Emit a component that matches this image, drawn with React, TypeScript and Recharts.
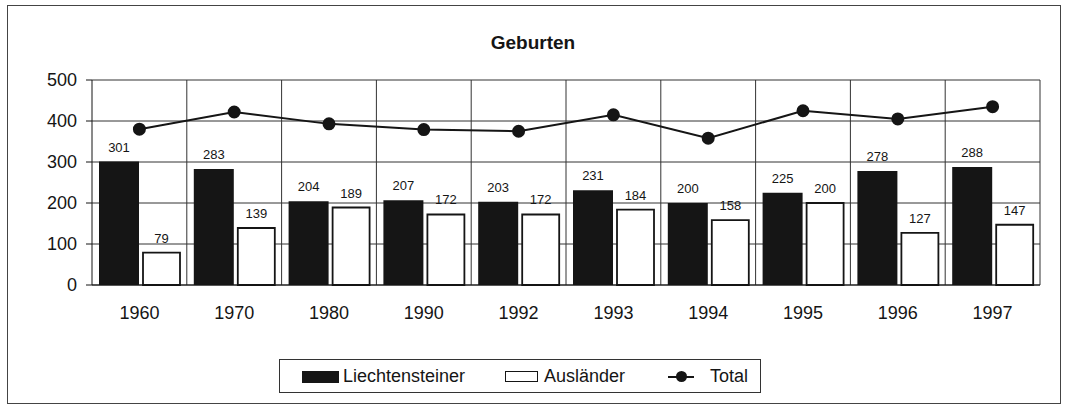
import { ComposedChart, Bar, Line, XAxis, YAxis, CartesianGrid, LabelList } from 'recharts';

const years = ['1960', '1970', '1980', '1990', '1992', '1993', '1994', '1995', '1996', '1997'];
const liechtensteiner = [301, 283, 204, 207, 203, 231, 200, 225, 278, 288];
const auslaender = [79, 139, 189, 172, 172, 184, 158, 200, 127, 147];
const total = [380, 422, 393, 379, 375, 415, 358, 425, 405, 435];
const yTicks = [0, 100, 200, 300, 400, 500];

const data = years.map((year, i) => ({
  year,
  liechtensteiner: liechtensteiner[i],
  auslaender: auslaender[i],
  total: total[i],
}));

const font = '"Liberation Sans", Arial, Helvetica, sans-serif';
const ink = '#151515';

export default function App() {
  return (
    <div style={{ position: 'absolute', left: 0, top: 0, width: 1066, height: 407, background: '#fff', fontFamily: font }}>
      <div style={{ position: 'absolute', left: 7, top: 5, width: 1052, height: 397, border: '1px solid #444' }} />
      <div style={{ position: 'absolute', left: 0, width: 1066, top: 32, textAlign: 'center', fontSize: 19, fontWeight: 'bold', color: ink }}>
        Geburten
      </div>
      <ComposedChart
        width={1066}
        height={407}
        data={data}
        margin={{ top: 80, right: 26, bottom: 92, left: 32 }}
        style={{ position: 'absolute', left: 0, top: 0 }}
      >
        <CartesianGrid
          stroke="#333"
          strokeWidth={1}
          verticalCoordinatesGenerator={({ offset }: any) =>
            years.map((_, i) => offset.left + ((i + 1) * offset.width) / years.length)
          }
        />
        <XAxis
          dataKey="year"
          height={30}
          axisLine={{ stroke: ink }}
          tickLine={false}
          tickMargin={15}
          tick={{ fill: ink, fontSize: 18, fontFamily: font }}
          interval={0}
        />
        <YAxis
          domain={[0, 500]}
          ticks={yTicks}
          width={60}
          axisLine={{ stroke: ink }}
          tickLine={{ stroke: ink }}
          tickSize={6}
          tickMargin={9}
          tick={{ fill: ink, fontSize: 18, fontFamily: font }}
        />
        <Bar dataKey="liechtensteiner" fill={ink} isAnimationActive={false} barSize={40}>
          <LabelList dataKey="liechtensteiner" position="top" offset={10} fill={ink} fontSize={13} fontFamily={font} />
        </Bar>
        <Bar dataKey="auslaender" fill="#fff" stroke={ink} strokeWidth={1.8} isAnimationActive={false} barSize={37}>
          <LabelList dataKey="auslaender" position="top" offset={10} fill={ink} fontSize={13} fontFamily={font} />
        </Bar>
        <Line
          dataKey="total"
          stroke={ink}
          strokeWidth={2}
          dot={{ r: 5.5, fill: ink, stroke: ink }}
          isAnimationActive={false}
        />
      </ComposedChart>
      <div
        style={{
          position: 'absolute',
          left: 279,
          top: 359,
          width: 482,
          height: 34,
          border: '1px solid #333',
          boxSizing: 'border-box',
          fontSize: 18,
          color: ink,
        }}
      >
        <div style={{ position: 'absolute', left: 22, top: 11, width: 37, height: 12, background: ink }} />
        <div style={{ position: 'absolute', left: 63, top: 6 }}>Liechtensteiner</div>
        <div style={{ position: 'absolute', left: 225, top: 11, width: 33, height: 11, border: '1.5px solid ' + ink, boxSizing: 'border-box' }} />
        <div style={{ position: 'absolute', left: 264, top: 6 }}>Ausländer</div>
        <div style={{ position: 'absolute', left: 388, top: 16, width: 26, height: 2, background: ink }} />
        <div style={{ position: 'absolute', left: 396, top: 11, width: 11, height: 11, borderRadius: '50%', background: ink }} />
        <div style={{ position: 'absolute', left: 430, top: 6 }}>Total</div>
      </div>
    </div>
  );
}
